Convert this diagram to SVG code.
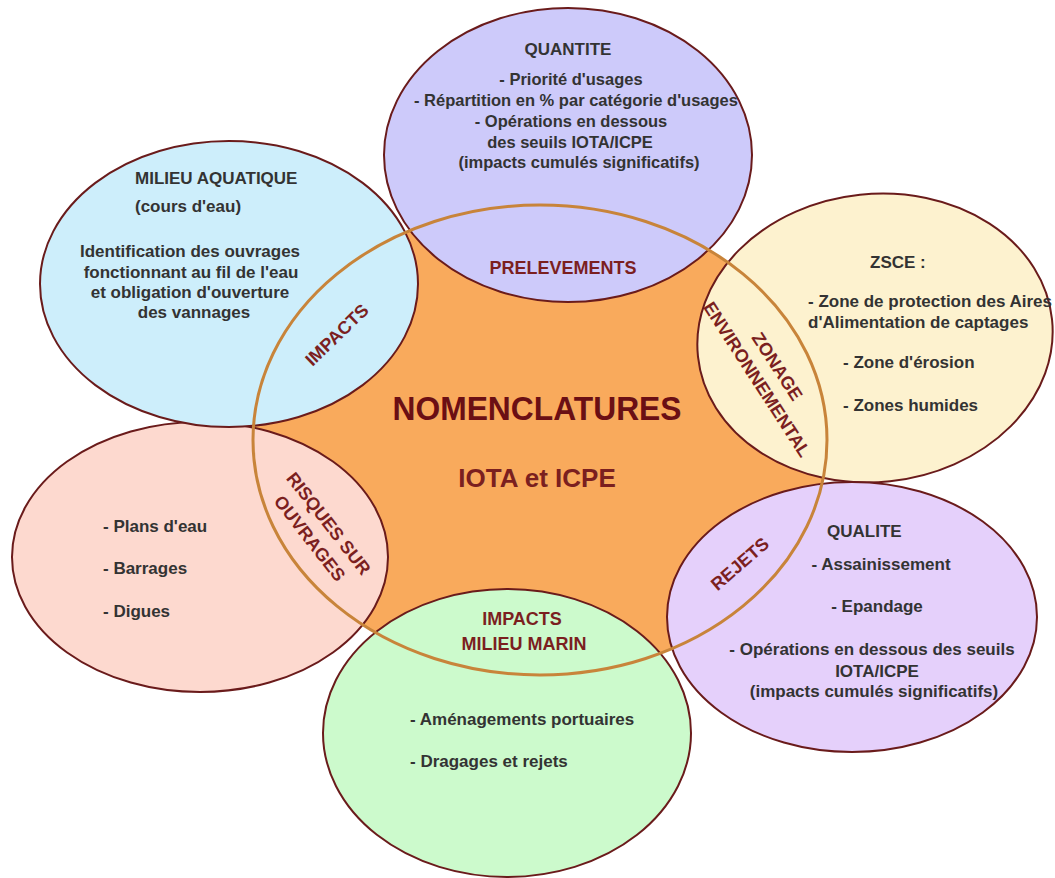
<svg xmlns="http://www.w3.org/2000/svg" width="1055" height="878" viewBox="0 0 1055 878">
<style>
.outer{stroke:#6a1b1b;stroke-width:2}
.t{font-family:"Liberation Sans",Arial,sans-serif;font-weight:bold;font-size:17px;fill:#333333}
.m{text-anchor:middle}
.lab{font-family:"Liberation Sans",Arial,sans-serif;font-weight:bold;font-size:18px;fill:#7b1f1f;text-anchor:middle}
</style>
<rect width="1055" height="878" fill="#ffffff"/>
<g id="center-fill">
<ellipse cx="540" cy="440" rx="287" ry="235" fill="#f9aa5c"/>
</g>
<g id="risques">
<ellipse class="outer" cx="200" cy="557" rx="188" ry="135" fill="#fdd9cf"/>
</g>
<g id="milieu-aquatique">
<ellipse class="outer" cx="229" cy="284" rx="189" ry="143" fill="#cdeefb"/>
</g>
<g id="quantite">
<ellipse class="outer" cx="568" cy="155" rx="184" ry="147" fill="#cdcafa"/>
</g>
<g id="zsce">
<ellipse class="outer" cx="875" cy="338" rx="178" ry="144" fill="#fdf2cf" transform="rotate(-6 875 338)"/>
</g>
<g id="qualite">
<ellipse class="outer" cx="852" cy="617" rx="185" ry="135" fill="#e5d0fb"/>
</g>
<g id="milieu-marin">
<ellipse class="outer" cx="507" cy="733" rx="184" ry="144" fill="#ccfacc"/>
</g>
<g id="nomenclatures">
<ellipse cx="540" cy="440" rx="287" ry="235" fill="none" stroke="#c8843a" stroke-width="3"/>
<text x="537" y="420" font-family="Liberation Sans, Arial, sans-serif" font-weight="bold" font-size="33" fill="#6b0f14" text-anchor="middle" textLength="289" lengthAdjust="spacingAndGlyphs">NOMENCLATURES</text>
<text x="537" y="487" font-family="Liberation Sans, Arial, sans-serif" font-weight="bold" font-size="26" fill="#7b1f1f" text-anchor="middle">IOTA et ICPE</text>
</g>
<g id="connectors"></g>
<g id="quantite-text">
<text class="t m" x="568" y="55" font-size="17.5">QUANTITE</text>
<text class="t m" x="571" y="85" style="font-size:16.5px">- Priorité d'usages</text>
<text class="t m" x="576" y="106" style="font-size:16.5px">- Répartition en % par catégorie d'usages</text>
<text class="t m" x="571" y="127" style="font-size:16.5px">- Opérations en dessous</text>
<text class="t m" x="570" y="148" style="font-size:16.5px">des seuils IOTA/ICPE</text>
<text class="t m" x="579" y="168" style="font-size:16.5px">(impacts cumulés significatifs)</text>
<text class="lab" x="563" y="274">PRELEVEMENTS</text>
</g>
<g id="milieu-aquatique-text">
<text class="t" x="135" y="184">MILIEU AQUATIQUE</text>
<text class="t" x="135" y="212">(cours d'eau)</text>
<text class="t m" x="190" y="257">Identification des ouvrages</text>
<text class="t m" x="191" y="278">fonctionnant au fil de l'eau</text>
<text class="t m" x="190" y="298">et obligation d'ouverture</text>
<text class="t m" x="194" y="318">des vannages</text>
<text class="lab" transform="translate(337 335) rotate(-44)" x="0" y="6">IMPACTS</text>
</g>
<g id="zsce-text">
<text class="t" x="870" y="268">ZSCE :</text>
<text class="t" x="808" y="307">- Zone de protection des Aires</text>
<text class="t" x="808" y="328">d'Alimentation de captages</text>
<text class="t" x="843" y="368">- Zone d'érosion</text>
<text class="t" x="843" y="411">- Zones humides</text>
<g transform="translate(767 373) rotate(57)">
<text class="lab" x="0" y="-6">ZONAGE</text>
<text class="lab" x="0" y="18">ENVIRONNEMENTAL</text>
</g>
</g>
<g id="risques-text">
<text class="t" x="103" y="532">- Plans d'eau</text>
<text class="t" x="103" y="574">- Barrages</text>
<text class="t" x="103" y="617">- Digues</text>
<g transform="translate(319 531) rotate(52)">
<text class="lab" x="0" y="-6">RISQUES SUR</text>
<text class="lab" x="0" y="18">OUVRAGES</text>
</g>
</g>
<g id="qualite-text">
<text class="t" x="827" y="537">QUALITE</text>
<text class="t m" x="881" y="570">- Assainissement</text>
<text class="t m" x="877" y="612">- Epandage</text>
<text class="t m" x="872" y="655">- Opérations en dessous des seuils</text>
<text class="t m" x="877" y="677">IOTA/ICPE</text>
<text class="t m" x="874" y="697">(impacts cumulés significatifs)</text>
<text class="lab" transform="translate(740 564) rotate(-41)" x="0" y="6">REJETS</text>
</g>
<g id="milieu-marin-text">
<text class="lab" x="522" y="625">IMPACTS</text>
<text class="lab" x="524" y="650">MILIEU MARIN</text>
<text class="t" x="410" y="725">- Aménagements portuaires</text>
<text class="t" x="410" y="767">- Dragages et rejets</text>
</g>
</svg>
